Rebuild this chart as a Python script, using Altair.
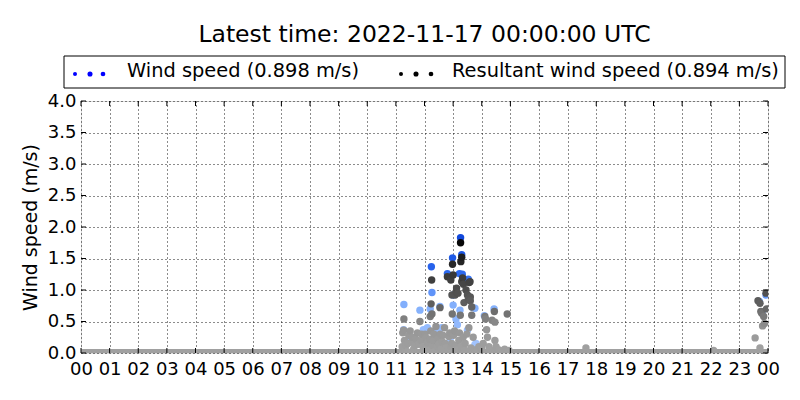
import json
import altair as alt
import pandas as pd

# ---------------- data ----------------
title_text = "Latest time: 2022-11-17 00:00:00 UTC"
legend_labels = ["Wind speed (0.898 m/s)", "Resultant wind speed (0.894 m/s)"]
y_title = "Wind speed (m/s)"

hour_ticks = list(range(25))
hour_labels = ["00", "01", "02", "03", "04", "05", "06", "07", "08", "09", "10", "11",
               "12", "13", "14", "15", "16", "17", "18", "19", "20", "21", "22", "23", "00"]
speed_ticks = [0.0, 0.5, 1.0, 1.5, 2.0, 2.5, 3.0, 3.5, 4.0]

# calm (0 m/s) readings through the day
calm_start = [0.0]
calm_end = [24.0]
calm_level = [0.0]

wind_time = [11.28, 11.27, 11.50, 11.84, 11.96, 12.10, 12.20, 12.24, 12.26, 12.40,
             12.45, 12.54, 12.60, 12.80, 12.90, 12.98, 13.00, 13.00, 13.10, 13.15,
             13.22, 13.24, 13.26, 13.30, 13.32, 13.50, 13.53, 13.70, 13.76, 13.76,
             13.80, 14.09, 14.43, 23.70, 23.80, 23.93]
wind_speed = [0.77, 0.37, 0.25, 0.68, 0.37, 0.40, 0.70, 1.37, 0.96, 0.30,
              0.35, 0.74, 0.40, 1.26, 0.20, 1.51, 0.76, 0.92, 0.54, 0.45,
              1.26, 0.68, 1.83, 1.56, 1.25, 0.36, 1.17, 0.72, 0.71, 0.13,
              0.15, 0.59, 0.70, 0.82, 0.65, 0.92]

res_time = [11.22, 11.24, 11.27, 11.28, 11.30, 11.32, 11.35, 11.40, 11.42, 11.45,
            11.50, 11.55, 11.58, 11.62, 11.66, 11.70, 11.75, 11.80, 11.84, 11.88,
            11.90, 11.95, 12.00, 12.02, 12.05, 12.08, 12.10, 12.15, 12.18, 12.20,
            12.22, 12.23, 12.25, 12.26, 12.28, 12.30, 12.33, 12.35, 12.40, 12.45,
            12.48, 12.50, 12.54, 12.55, 12.58, 12.62, 12.65, 12.68, 12.70, 12.72,
            12.75, 12.80, 12.82, 12.85, 12.88, 12.90, 12.92, 12.95, 12.96, 12.97,
            12.98, 13.00, 13.00, 13.02, 13.05, 13.07, 13.10, 13.12, 13.12, 13.15,
            13.17, 13.20, 13.22, 13.25, 13.26, 13.27, 13.28, 13.30, 13.30, 13.33,
            13.35, 13.36, 13.38, 13.40, 13.42, 13.45, 13.48, 13.50, 13.53, 13.55,
            13.56, 13.59, 13.60, 13.60, 13.62, 13.65, 13.65, 13.70, 13.75, 13.85,
            13.90, 14.00, 14.05, 14.11, 14.13, 14.17, 14.20, 14.25, 14.30, 14.36,
            14.44, 14.46, 14.46, 14.50, 14.60, 14.70, 14.80, 14.89, 14.95, 17.64,
            22.10, 23.55, 23.65, 23.72, 23.72, 23.75, 23.78, 23.81, 23.85, 23.88,
            23.93, 23.95]
res_speed = [0.10, 0.32, 0.36, 0.54, 0.20, 0.05, 0.12, 0.02, 0.15, 0.28,
             0.35, 0.18, 0.25, 0.06, 0.12, 0.22, 0.32, 0.14, 0.50, 0.20,
             0.30, 0.10, 0.05, 0.30, 0.24, 0.08, 0.16, 0.04, 0.22, 0.58,
             0.35, 0.78, 1.16, 0.62, 0.12, 0.20, 0.30, 0.02, 0.42, 0.10,
             0.22, 0.14, 0.72, 0.30, 0.06, 0.18, 0.28, 0.05, 0.40, 0.15,
             0.08, 1.21, 0.05, 0.26, 0.32, 0.10, 1.16, 0.15, 0.92, 0.62,
             1.41, 1.24, 0.02, 0.28, 0.35, 0.92, 0.97, 1.03, 0.12, 0.05,
             0.95, 0.20, 0.32, 0.60, 1.75, 1.45, 0.10, 1.13, 1.52, 1.19,
             0.25, 1.09, 0.80, 0.05, 0.15, 1.00, 0.30, 0.92, 0.85, 0.40,
             1.12, 1.13, 0.89, 0.83, 0.08, 0.73, 0.60, 0.25, 0.05, 0.04,
             0.10, 0.06, 0.15, 0.58, 0.54, 0.37, 0.25, 0.10, 0.05, 0.52,
             0.66, 0.49, 0.20, 0.10, 0.05, 0.03, 0.06, 0.62, 0.04, 0.08,
             0.04, 0.24, 0.83, 0.79, 0.08, 0.66, 0.63, 0.43, 0.58, 0.47,
             0.95, 0.70]

# ---------------- layout ----------------
W, H = 687, 252
FONT = "DejaVu Sans"

x_scale = alt.Scale(domain=[0, 24], nice=False, zero=False)
y_scale = alt.Scale(domain=[0, 4], nice=False, zero=False)

x_axis = alt.Axis(values=hour_ticks, labelExpr=json.dumps(hour_labels) + "[datum.value]",
                  grid=True, gridDash=[1, 3], gridColor="black", gridOpacity=0.9, gridWidth=1,
                  ticks=False, domain=False, labelFontSize=18, labelPadding=7,
                  labelColor="black", labelFont=FONT, labelFlush=False, labelOverlap=False)
y_axis = alt.Axis(values=speed_ticks, format=".1f", grid=True, gridDash=[1, 3],
                  gridColor="black", gridOpacity=0.9, gridWidth=1, ticks=False, domain=False,
                  labelFontSize=18, labelPadding=5, labelColor="black", labelFont=FONT,
                  labelFlush=False, labelOverlap=False,
                  titleFontSize=19, titleFontWeight="normal", titleColor="black",
                  titleFont=FONT, titlePadding=7)


def X(field):
    return alt.X(field, scale=x_scale, axis=x_axis, title=None)


def Y(field):
    return alt.Y(field, scale=y_scale, axis=y_axis, title=y_title)


one = pd.DataFrame({"k": [0]})

calm = alt.Chart(pd.DataFrame({"start": calm_start, "end": calm_end, "lvl": calm_level})).mark_rule(
    clip=True, strokeWidth=8, color="#a0a0a0"
).encode(x=X("start:Q"), x2="end:Q", y=Y("lvl:Q"))

wind = alt.Chart(pd.DataFrame({"t": wind_time, "v": wind_speed})).mark_circle(
    size=55, opacity=1, clip=True
).encode(
    x=X("t:Q"), y=Y("v:Q"),
    color=alt.Color("v:Q", legend=None,
                    scale=alt.Scale(domain=[0, 0.8, 1.2, 1.9],
                                    range=["#a8c8ff", "#80aefc", "#2f6cf0", "#0d44d8"]))
)

res = alt.Chart(pd.DataFrame({"t": res_time, "r": res_speed})).mark_circle(
    size=55, opacity=1, clip=True
).encode(
    x=X("t:Q"), y=Y("r:Q"),
    color=alt.Color("r:Q", legend=None,
                    scale=alt.Scale(domain=[0, 0.4, 0.7, 1.1, 1.8],
                                    range=["#a2a2a2", "#969696", "#676767", "#454545", "#000000"]))
)

hticks = pd.DataFrame({"h": hour_ticks})
sticks = pd.DataFrame({"s": speed_ticks})
tick_b = alt.Chart(hticks).mark_rule(color="black").encode(x=X("h:Q"), y=alt.value(H), y2=alt.value(H - 5))
tick_t = alt.Chart(hticks).mark_rule(color="black").encode(x=X("h:Q"), y=alt.value(0), y2=alt.value(5))
tick_l = alt.Chart(sticks).mark_rule(color="black").encode(y=Y("s:Q"), x=alt.value(0), x2=alt.value(5))
tick_r = alt.Chart(sticks).mark_rule(color="black").encode(y=Y("s:Q"), x=alt.value(W), x2=alt.value(W - 5))

# legend box (drawn above the plot area)
box = alt.Chart(one).mark_rect(fill="white", stroke="black", strokeWidth=1).encode(
    x=alt.value(-17), x2=alt.value(704), y=alt.value(-45), y2=alt.value(-13))


def dot(x, size, color):
    return alt.Chart(one).mark_circle(size=size, color=color, opacity=1).encode(
        x=alt.value(x), y=alt.value(-27))


dots = [dot(-6, 16, "#0000ff"), dot(9, 26, "#0000ff"), dot(22, 22, "#0000ff"),
        dot(320, 16, "black"), dot(335, 26, "black"), dot(350, 22, "black")]

leg_text1 = alt.Chart(one).mark_text(text=legend_labels[0], fontSize=19.4, font=FONT, align="left",
                                     baseline="alphabetic", color="black").encode(
    x=alt.value(46), y=alt.value(-24))
leg_text2 = alt.Chart(one).mark_text(text=legend_labels[1], fontSize=19.4, font=FONT, align="left",
                                     baseline="alphabetic", color="black").encode(
    x=alt.value(371), y=alt.value(-24))

title = alt.Chart(one).mark_text(text=title_text, fontSize=23.5, font=FONT, align="center",
                                 baseline="alphabetic", color="black").encode(
    x=alt.value(W / 2), y=alt.value(-59))

chart = alt.layer(
    calm, wind, res, tick_b, tick_t, tick_l, tick_r, box, *dots, leg_text1, leg_text2, title
).resolve_scale(color="independent").properties(
    width=W, height=H, autosize=alt.AutoSizeParams(type="none"),
    padding={"left": 73, "top": 93, "right": 24, "bottom": 47}
).configure_view(stroke="black", strokeWidth=1.2).configure(font=FONT)

chart.save("out.html", embed_options={"renderer": "svg", "actions": False})
